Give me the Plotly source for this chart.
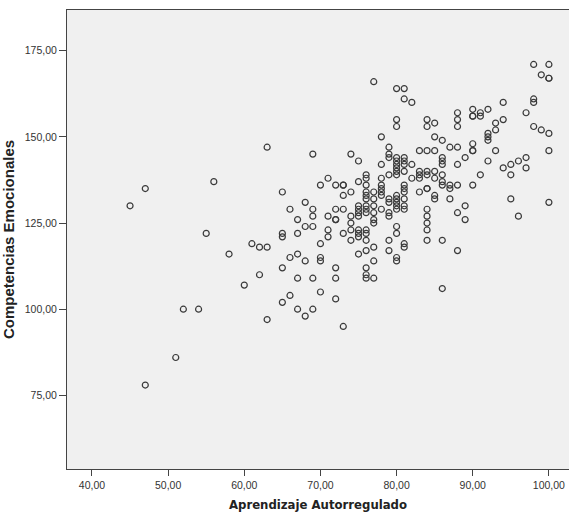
import plotly.graph_objects as go

# Data (x: Aprendizaje Autorregulado, y: Competencias Emocionales)
columns = {
    45: [130],
    47: [135, 78],
    51: [86],
    52: [100],
    54: [100],
    55: [122],
    56: [137],
    58: [116],
    60: [107],
    61: [119],
    62: [118, 110],
    63: [147, 118, 97],
    65: [134, 122, 121, 112, 102],
    66: [129, 115, 104],
    67: [126, 122, 116, 109, 100],
    68: [131, 124, 114, 98],
    69: [145, 129, 127, 124, 109, 100],
    70: [136, 119, 115, 114, 105],
    71: [138, 127, 123, 121],
    72: [136, 129, 126, 126, 112, 109, 103],
    73: [136, 136, 133, 129, 122, 95],
    74: [145, 134, 127, 125, 123, 120],
    75: [143, 137, 130, 129, 128, 127, 123, 122, 121, 116],
    76: [139, 138, 136, 134, 133, 132, 130, 129, 128, 123, 122, 120, 117, 112, 110, 109],
    77: [166, 134, 132, 130, 128, 126, 125, 118, 114, 109],
    78: [150, 142, 138, 136, 135, 134, 133, 129],
    79: [147, 145, 144, 139, 132, 131, 128, 127, 120, 117],
    80: [164, 155, 153, 144, 143, 142, 141, 140, 139, 133, 132, 131, 130, 129, 124, 122, 115, 114],
    81: [164, 161, 144, 143, 142, 140, 136, 135, 134, 132, 130, 129, 119, 118],
    82: [160, 142, 138],
    83: [146, 140, 139, 138, 134],
    84: [155, 153, 146, 140, 139, 135, 135, 129, 127, 125, 123, 120],
    85: [154, 150, 146, 140, 138, 133, 132],
    86: [149, 144, 143, 142, 139, 137, 136, 120, 106],
    87: [147, 136, 135, 132],
    88: [157, 155, 153, 147, 142, 136, 128, 117],
    89: [144, 130, 126],
    90: [158, 156, 156, 148, 146, 146, 136],
    91: [157, 156, 139],
    92: [158, 151, 150, 149, 143],
    93: [154, 152, 146],
    94: [160, 155, 141],
    95: [142, 139, 132],
    96: [143, 127],
    97: [157, 144, 141],
    98: [171, 161, 160, 153],
    99: [168, 152],
    100: [171, 167, 167, 151, 146, 131],
}

aprendizaje = [x for x, ys in columns.items() for _ in ys]
competencias = [y for ys in columns.values() for y in ys]

x_tickvals = [40, 50, 60, 70, 80, 90, 100]
x_ticktext = ["40,00", "50,00", "60,00", "70,00", "80,00", "90,00", "100,00"]
y_tickvals = [75, 100, 125, 150, 175]
y_ticktext = ["75,00", "100,00", "125,00", "150,00", "175,00"]

x_title = "Aprendizaje Autorregulado"
y_title = "Competencias Emocionales"

fig = go.Figure(
    go.Scatter(
        x=aprendizaje,
        y=competencias,
        mode="markers",
        marker=dict(symbol="circle-open", size=6, color="#3a3a3a", line=dict(width=1.2, color="#3a3a3a")),
        showlegend=False,
    )
)

tick_font = dict(family="Liberation Sans, Arial, sans-serif", size=10.5, color="#333333")

fig.update_layout(
    width=569,
    height=519,
    margin=dict(l=67, r=0, t=10, b=50),
    paper_bgcolor="white",
    plot_bgcolor="#F0F0F0",
    xaxis=dict(
        range=[36.72, 102.64],
        tickvals=x_tickvals,
        ticktext=x_ticktext,
        ticks="outside",
        ticklen=6,
        tickcolor="#444444",
        tickfont=tick_font,
        showgrid=False,
        zeroline=False,
        showline=True,
        mirror=True,
        linecolor="#444444",
        linewidth=1,
        title=dict(
            text=x_title,
            font=dict(family="DejaVu Sans Condensed, DejaVu Sans, sans-serif", size=13, color="#222222", weight="bold"),
            standoff=10,
        ),
    ),
    yaxis=dict(
        range=[53.65, 186.8],
        tickvals=y_tickvals,
        ticktext=y_ticktext,
        ticks="outside",
        ticklen=7,
        tickcolor="#444444",
        tickfont=tick_font,
        showgrid=False,
        zeroline=False,
        showline=True,
        mirror=False,
        linecolor="#444444",
        linewidth=1,
        title=dict(
            text=y_title,
            font=dict(family="Liberation Sans, Arial, sans-serif", size=15, color="#222222", weight="bold"),
            standoff=6,
        ),
    ),
)

fig.write_html(
    "out.html",
    config={"displayModeBar": False},
    post_script="document.body.style.margin='0';document.body.style.overflow='hidden';",
)
